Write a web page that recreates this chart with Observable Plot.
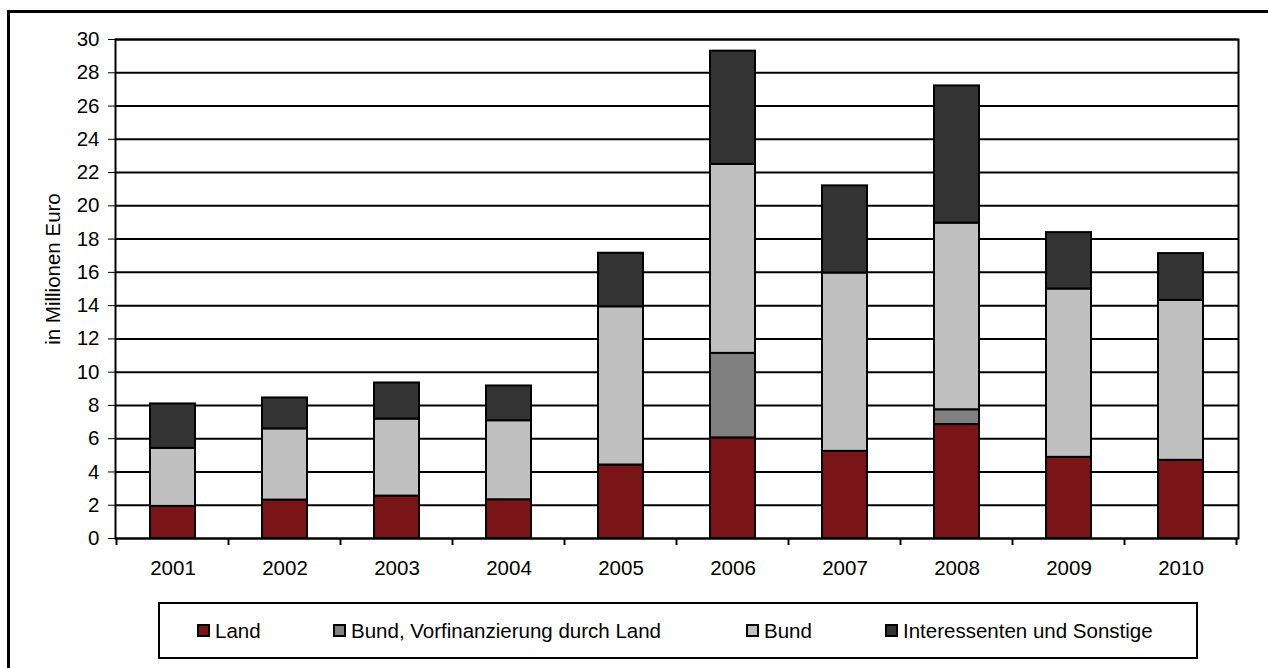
<!DOCTYPE html>
<html>
<head>
<meta charset="utf-8">
<script src="https://cdn.jsdelivr.net/npm/d3@7"></script>
<script src="https://cdn.jsdelivr.net/npm/@observablehq/plot@0.6"></script>
<style>
  html, body { margin: 0; padding: 0; background: #fff; }
  #wrap { position: relative; width: 1268px; height: 668px; overflow: hidden; font-family: "Liberation Sans", Arial, sans-serif; }
  #frame { position: absolute; left: 7px; top: 10px; width: 1400px; height: 800px; border: 3px solid #000; box-sizing: border-box; }
  #chart { position: absolute; left: 0; top: 0; }
  #legend { position: absolute; left: 158px; top: 602px; width: 1040px; height: 57px; border: 2px solid #000; box-sizing: border-box; background: #fff; }
  .item { position: absolute; top: 0; height: 53px; display: flex; align-items: center; font-size: 20.5px; color: #000; white-space: nowrap; }
  .sw { width: 13px; height: 13px; border: 2px solid #000; box-sizing: border-box; margin-right: 5px; }
</style>
</head>
<body>
<div id="wrap">
  <div id="frame"></div>
  <div id="chart"></div>
  <div id="legend"></div>
</div>
<script>
const years = ["2001","2002","2003","2004","2005","2006","2007","2008","2009","2010"];
const seriesNames = ["Land", "Bund, Vorfinanzierung durch Land", "Bund", "Interessenten und Sonstige"];
const seriesColors = ["#7a1517", "#808080", "#c0c0c0", "#333333"];
const land          = [1.93, 2.31, 2.55, 2.33, 4.42, 6.05, 5.24, 6.85, 4.88, 4.70];
const vorfinanz     = [0, 0, 0, 0, 0, 5.08, 0, 0.89, 0, 0];
const bund          = [3.49, 4.28, 4.63, 4.75, 9.51, 11.36, 10.72, 11.22, 10.12, 9.61];
const interessenten = [2.67, 1.86, 2.17, 2.09, 3.22, 6.81, 5.24, 8.25, 3.39, 2.82];
const yTicks = [0,2,4,6,8,10,12,14,16,18,20,22,24,26,28,30];
const yLabel = "in Millionen Euro";

const seriesValues = [land, vorfinanz, bund, interessenten];
const data = [];
seriesNames.forEach((s, si) => {
  years.forEach((y, i) => {
    const v = seriesValues[si][i];
    if (v > 0) data.push({year: y, series: s, value: v, order: si});
  });
});

const boundaryTicks = (index, scales) => {
  const x = scales.x, yS = scales.y;
  const bw = typeof x.bandwidth === "function" ? x.bandwidth() : (x.bandwidth ?? 0);
  const step = x(years[1]) - x(years[0]);
  const y0 = yS(0);
  const g = d3.create("svg:g").attr("stroke", "#000").attr("stroke-width", 2);
  const xs = years.map(y => x(y) - (step - bw) / 2);
  xs.push(xs[xs.length - 1] + step);
  xs.forEach(px => g.append("line").attr("x1", px).attr("x2", px).attr("y1", y0).attr("y2", y0 + 7));
  return g.node();
};

const chart = Plot.plot({
  width: 1268,
  height: 668,
  marginLeft: 115,
  marginRight: 30,
  marginTop: 39,
  marginBottom: 130,
  style: { fontSize: "20.5px", fontFamily: "'Liberation Sans', Arial, sans-serif", background: "transparent", color: "#000" },
  x: { domain: years, paddingInner: 0.6, paddingOuter: 0.3, tickSize: 0, tickPadding: 22, label: null },
  y: { domain: [0, 30], ticks: yTicks, tickSize: 7, tickPadding: 9, label: null },
  color: { domain: seriesNames, range: seriesColors },
  marks: [
    Plot.ruleY(yTicks, { y: d => d, stroke: "#000", strokeWidth: 2 }),
    Plot.barY(data, Plot.stackY({ x: "year", y: "value", fill: "series", order: seriesNames, stroke: "#000", strokeWidth: 2 })),
    Plot.frame({ stroke: "#000", strokeWidth: 2 }),
    boundaryTicks,
    Plot.text([yLabel], { text: d => d, frameAnchor: "left", textAnchor: "middle", lineAnchor: "middle", rotate: -90, dx: -62, dy: -20, fontSize: 20.5, fill: "#000" })
  ]
});
document.getElementById("chart").appendChild(chart);

const legend = document.getElementById("legend");
const legendLeft = [37, 173, 586, 725];
seriesNames.forEach((s, i) => {
  const it = document.createElement("div");
  it.className = "item";
  it.style.left = legendLeft[i] + "px";
  const sw = document.createElement("div");
  sw.className = "sw";
  sw.style.background = seriesColors[i];
  const tx = document.createElement("span");
  tx.textContent = s;
  it.appendChild(sw);
  it.appendChild(tx);
  legend.appendChild(it);
});
</script>
</body>
</html>
